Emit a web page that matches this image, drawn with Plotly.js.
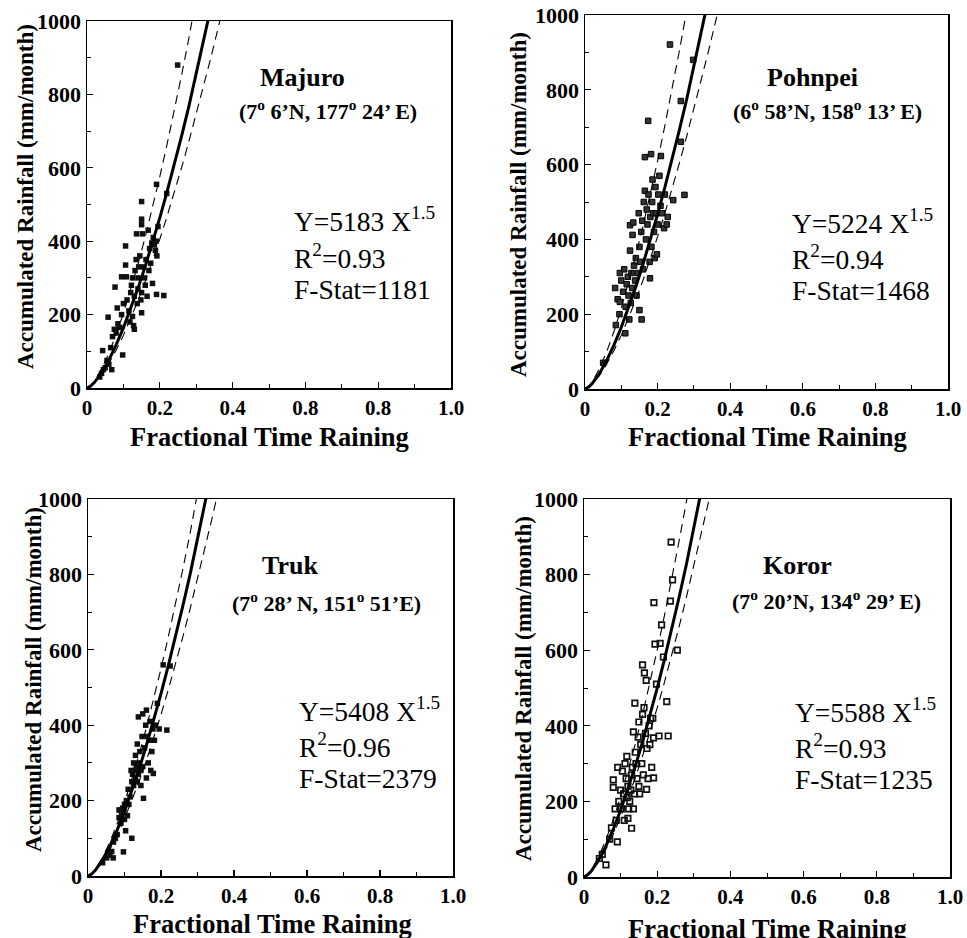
<!DOCTYPE html>
<html>
<head>
<meta charset="utf-8">
<script src="https://cdn.plot.ly/plotly-3.0.1.min.js"></script>
<style>html,body{margin:0;padding:0;background:#fff;}#chart{width:967px;height:938px;}</style>
</head>
<body>
<div id="chart"></div>
<script>
// ---- Data ----
const stations = ["Majuro", "Pohnpei", "Truk", "Koror"];
const coordsText = [
  "(7<sup>o</sup> 6’N, 177<sup>o</sup> 24’ E)",
  "(6<sup>o</sup> 58’N, 158<sup>o</sup> 13’ E)",
  "(7<sup>o</sup> 28’ N, 151<sup>o</sup> 51’E)",
  "(7<sup>o</sup> 20’N, 134<sup>o</sup> 29’ E)"
];
const fitCoef = [5183, 5224, 5408, 5588];
const fitExp = 1.5;
const rSquared = ["0.93", "0.94", "0.96", "0.93"];
const fStat = ["1181", "1468", "2379", "1235"];
// dashed bound coefficients (read where dashed lines meet the top of each frame)
const upperCoef = [6436, 6822, 6147, 6712];
const lowerCoef = [4535, 4554, 4789, 5000];
const curveX = [0, 0.005, 0.01, 0.02, 0.03, 0.04, 0.06, 0.08, 0.1, 0.12, 0.14, 0.16, 0.18, 0.2, 0.22, 0.24, 0.26, 0.28, 0.3, 0.32, 0.34, 0.36, 0.38];

const xTickVals = [0, 0.2, 0.4, 0.6, 0.8, 1.0];
const xTickTextMajuro = ["0", "0.2", "0.4", "0.8", "0.8", "1.0"];
const xTickText = ["0", "0.2", "0.4", "0.6", "0.8", "1.0"];
const yTickVals = [0, 200, 400, 600, 800, 1000];
const yTickText = ["0", "200", "400", "600", "800", "1000"];

const majuroX = [0.035,0.040,0.045,0.050,0.043,0.055,0.060,0.068,0.065,0.058,0.070,0.075,0.080,0.083,0.085,0.090,0.098,0.077,0.095,0.100,0.095,0.106,0.106,0.108,0.110,0.115,0.118,0.120,0.122,0.125,0.125,0.128,0.130,0.130,0.132,0.135,0.136,0.138,0.140,0.140,0.142,0.145,0.148,0.150,0.150,0.150,0.150,0.150,0.152,0.155,0.158,0.160,0.162,0.165,0.168,0.170,0.172,0.175,0.178,0.180,0.182,0.185,0.188,0.190,0.191,0.192,0.195,0.211,0.191,0.219,0.249];
const majuroY = [30,40,50,55,102,75,65,50,110,193,140,160,150,218,175,165,90,275,200,230,303,335,387,303,240,210,180,260,280,300,195,170,160,250,320,350,420,230,270,300,330,360,240,205,260,445,460,508,420,330,300,280,350,250,430,320,380,340,395,285,410,390,375,400,255,360,440,252,555,530,880];

const pohnpeiX = [0.050,0.083,0.085,0.090,0.095,0.096,0.096,0.100,0.105,0.108,0.111,0.112,0.115,0.118,0.120,0.122,0.124,0.124,0.126,0.128,0.130,0.131,0.133,0.135,0.138,0.140,0.142,0.145,0.148,0.150,0.150,0.152,0.155,0.156,0.158,0.160,0.162,0.165,0.165,0.168,0.170,0.172,0.174,0.175,0.178,0.179,0.180,0.182,0.183,0.185,0.186,0.188,0.190,0.192,0.194,0.196,0.198,0.200,0.202,0.205,0.208,0.209,0.212,0.218,0.220,0.225,0.228,0.234,0.243,0.264,0.264,0.274,0.298];
const pohnpeiY = [70,270,171,240,200,310,233,290,260,320,149,220,280,300,250,186,370,438,230,310,270,412,445,330,290,350,250,310,470,211,380,340,420,186,450,320,500,530,620,400,480,440,717,520,340,296,460,628,380,500,560,470,420,350,540,470,360,440,520,570,490,623,470,430,520,440,460,921,505,770,661,519,880];

const trukX = [0.040,0.051,0.060,0.065,0.069,0.070,0.075,0.080,0.085,0.085,0.088,0.090,0.092,0.095,0.097,0.098,0.100,0.100,0.103,0.105,0.108,0.110,0.112,0.115,0.118,0.120,0.120,0.122,0.125,0.125,0.128,0.130,0.130,0.132,0.135,0.135,0.138,0.138,0.140,0.142,0.145,0.145,0.148,0.150,0.150,0.152,0.155,0.158,0.160,0.160,0.162,0.165,0.168,0.170,0.172,0.175,0.178,0.179,0.182,0.185,0.190,0.195,0.206,0.216,0.225];
const trukY = [35,48,55,65,48,90,100,110,175,155,175,140,160,180,64,170,150,190,120,200,160,230,190,210,280,100,250,270,240,300,280,260,320,290,250,350,422,270,300,330,280,240,370,290,430,206,340,400,260,440,370,300,360,410,280,330,390,272,360,400,458,390,560,387,557];

const kororX = [0.042,0.050,0.060,0.070,0.075,0.080,0.080,0.085,0.088,0.091,0.092,0.095,0.100,0.102,0.105,0.108,0.110,0.112,0.115,0.117,0.118,0.120,0.120,0.122,0.125,0.128,0.130,0.130,0.132,0.135,0.135,0.138,0.139,0.140,0.142,0.145,0.148,0.150,0.150,0.152,0.155,0.158,0.160,0.160,0.162,0.164,0.165,0.168,0.170,0.171,0.172,0.175,0.178,0.180,0.182,0.185,0.188,0.190,0.190,0.191,0.194,0.198,0.205,0.208,0.212,0.217,0.226,0.230,0.236,0.238,0.242,0.255];
const kororY = [49,60,32,100,130,257,237,180,150,93,290,200,230,180,280,220,150,300,260,319,210,155,240,180,200,230,129,270,290,384,180,220,460,330,300,260,370,240,410,220,350,300,561,430,270,448,540,380,520,232,340,260,400,350,420,290,420,368,262,726,616,510,373,618,667,582,464,373,730,886,786,600];

const pointsX = [majuroX, pohnpeiX, trukX, kororX];
const pointsY = [majuroY, pohnpeiY, trukY, kororY];

// ---- Layout geometry (pixels in the 967x938 picture) ----
const W = 967, H = 938;
const frames = [
  {l: 87, r: 451, t: 21, b: 388},
  {l: 585, r: 948, t: 15, b: 389},
  {l: 88, r: 453, t: 499, b: 876},
  {l: 584, r: 950, t: 499, b: 877}
];
const nameP = [[302, 77], [812, 78], [290, 565], [797, 565]];
const coordP = [[328, 110], [827, 110], [326, 602], [826, 600]];
const eqP = [[292, 219, 256, 289], [790, 222, 257, 290], [297, 709, 745, 778], [793, 710, 746, 779]];
const yTitleP = [[25, 197], [518, 205], [33, 680], [523, 689]];
const xTitleP = [[269, 437], [767, 437], [272, 924], [767, 929]];

const px = x => x / W;
const py = y => 1 - y / H;
const FONT = "Liberation Serif, Times New Roman, serif";

const traces = [];
const layout = {
  width: W, height: H,
  margin: {l: 0, r: 0, t: 0, b: 0},
  paper_bgcolor: "#fff", plot_bgcolor: "#fff",
  showlegend: false,
  font: {family: FONT, color: "#000"},
  annotations: []
};

for (let i = 0; i < 4; i++) {
  const ax = i === 0 ? "" : String(i + 1);
  const xa = "x" + ax, ya = "y" + ax;
  const f = frames[i];
  const fitY = curveX.map(x => fitCoef[i] * Math.pow(x, fitExp));
  const upY = curveX.map(x => upperCoef[i] * Math.pow(x, fitExp));
  const loY = curveX.map(x => lowerCoef[i] * Math.pow(x, fitExp));
  const markerStyle = (i === 3)
    ? {symbol: "square-open", size: 5.5, color: "#111", line: {width: 1.7, color: "#111"}}
    : (i === 1 ? {symbol: "square", size: 5.5, color: "#333", line: {width: 1, color: "#000"}}
               : {symbol: "square", size: 5.5, color: "#111", line: {width: 0}});
  traces.push({x: pointsX[i], y: pointsY[i], xaxis: xa, yaxis: ya, type: "scatter", mode: "markers", marker: markerStyle, hoverinfo: "skip"});
  traces.push({x: curveX, y: upY, xaxis: xa, yaxis: ya, type: "scatter", mode: "lines", line: {color: "#000", width: 1.1, dash: "9px,6px"}, hoverinfo: "skip"});
  traces.push({x: curveX, y: loY, xaxis: xa, yaxis: ya, type: "scatter", mode: "lines", line: {color: "#000", width: 1.1, dash: "9px,6px"}, hoverinfo: "skip"});
  traces.push({x: curveX, y: fitY, xaxis: xa, yaxis: ya, type: "scatter", mode: "lines", line: {color: "#000", width: 3}, hoverinfo: "skip"});

  layout["xaxis" + ax] = {
    domain: [px(f.l), px(f.r)], anchor: ya, range: [0, 1], fixedrange: true,
    showgrid: false, zeroline: false, showline: true, linecolor: "#000", linewidth: 1.5, mirror: true,
    ticks: "inside", ticklen: 6, tickwidth: 1.2, tickcolor: "#000",
    tickvals: xTickVals, ticktext: i === 0 ? xTickTextMajuro : xTickText,
    tickfont: {family: FONT, size: 21, weight: "bold", color: "#000"},
    minor: {tickvals: [0.1, 0.3, 0.5, 0.7, 0.9], ticks: "inside", ticklen: 4, tickwidth: 1, tickcolor: "#000"}
  };
  layout["yaxis" + ax] = {
    domain: [py(f.b), py(f.t)], anchor: xa, range: [0, 1000], fixedrange: true,
    showgrid: false, zeroline: false, showline: true, linecolor: "#000", linewidth: 1.5, mirror: true,
    ticks: "inside", ticklen: 6, tickwidth: 1.2, tickcolor: "#000",
    tickvals: yTickVals, ticktext: yTickText,
    tickfont: {family: FONT, size: 22, weight: "bold", color: "#000"},
    minor: {tickvals: [100, 300, 500, 700, 900], ticks: "inside", ticklen: 4, tickwidth: 1, tickcolor: "#000"}
  };

  const ann = layout.annotations;
  ann.push({xref: "paper", yref: "paper", x: px(nameP[i][0]), y: py(nameP[i][1]), xanchor: "center", yanchor: "middle", showarrow: false,
            text: stations[i], font: {family: FONT, size: 26, weight: "bold", color: "#000"}});
  ann.push({xref: "paper", yref: "paper", x: px(coordP[i][0]), y: py(coordP[i][1]), xanchor: "center", yanchor: "middle", showarrow: false,
            text: coordsText[i], font: {family: FONT, size: 22, weight: "bold", color: "#000"}});
  const eqTexts = ["Y=" + fitCoef[i] + " X<sup>" + fitExp.toFixed(1) + "</sup>", "R<sup>2</sup>=" + rSquared[i], "F-Stat=" + fStat[i]];
  for (let k = 0; k < 3; k++) {
    ann.push({xref: "paper", yref: "paper", x: px(eqP[i][0]), y: py(eqP[i][k + 1]), xanchor: "left", yanchor: "middle", showarrow: false,
              text: eqTexts[k], font: {family: FONT, size: 27.5, color: "#000"}});
  }
  ann.push({xref: "paper", yref: "paper", x: px(yTitleP[i][0]), y: py(yTitleP[i][1]), xanchor: "center", yanchor: "middle", showarrow: false, textangle: -90,
            text: "Accumulated Rainfall (mm/month)", font: {family: FONT, size: 23, weight: "bold", color: "#000"}});
  ann.push({xref: "paper", yref: "paper", x: px(xTitleP[i][0]), y: py(xTitleP[i][1]), xanchor: "center", yanchor: "middle", showarrow: false,
            text: "Fractional Time Raining", font: {family: FONT, size: 26.5, weight: "bold", color: "#000"}});
}

Plotly.newPlot("chart", traces, layout, {staticPlot: true, displayModeBar: false});
</script>
</body>
</html>
